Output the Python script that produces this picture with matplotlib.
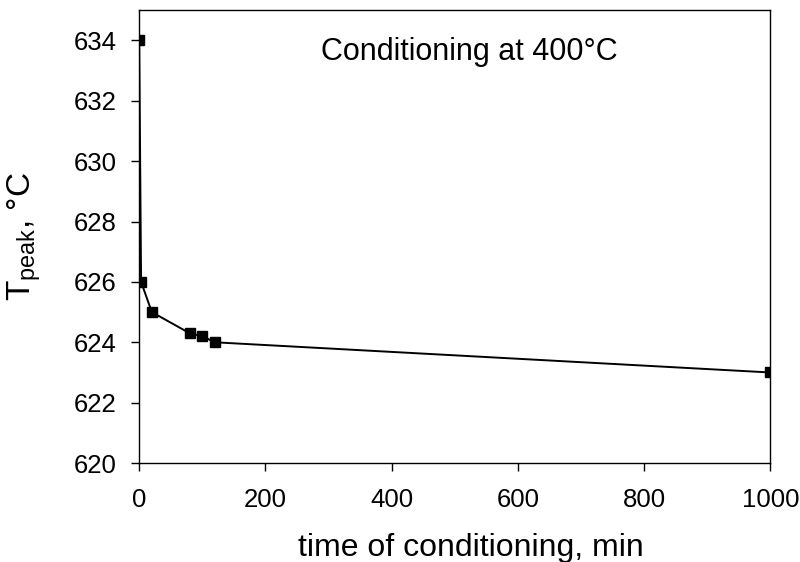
import matplotlib
matplotlib.use("Agg")
import matplotlib.pyplot as plt

# conditioning time (min) vs peak temperature (deg C)
time_min = [0, 3, 20, 80, 100, 120, 1000]
t_peak = [634, 626, 625, 624.3, 624.2, 624.0, 623.0]

plt.rcParams.update({
    "font.family": "Liberation Sans",
    "mathtext.fontset": "custom",
    "mathtext.rm": "Liberation Sans",
    "mathtext.it": "Liberation Sans",
})

fig = plt.figure(figsize=(8, 5.62), dpi=100)
ax = fig.add_axes([0.174, 0.176, 0.789, 0.806])
ax.plot(time_min, t_peak, color="black", lw=1.4, marker="s", ms=6.5,
        mec="black", mfc="black")

ax.set_xlim(0, 1000)
ax.set_ylim(620, 635)
ax.set_xticks([0, 200, 400, 600, 800, 1000])
ax.set_yticks([620, 622, 624, 626, 628, 630, 632, 634])
ax.tick_params(direction="out", length=6, width=1, labelsize=18.5,
               top=False, right=False)
ax.tick_params(axis="x", pad=12)
ax.tick_params(axis="y", pad=10)
for s in ax.spines.values():
    s.set_linewidth(1)

ax.set_xlabel("time of conditioning, min", fontsize=23)
ax.set_ylabel(r"T$_{\mathrm{peak}}$, °C", fontsize=24)
ax.xaxis.set_label_coords(0.526, -0.155)
ax.yaxis.set_label_coords(-0.152, 0.5)
ax.text(523, 633.6, "Conditioning at 400°C", fontsize=22,
        ha="center", va="center")

fig.savefig("out.png", dpi=100)
